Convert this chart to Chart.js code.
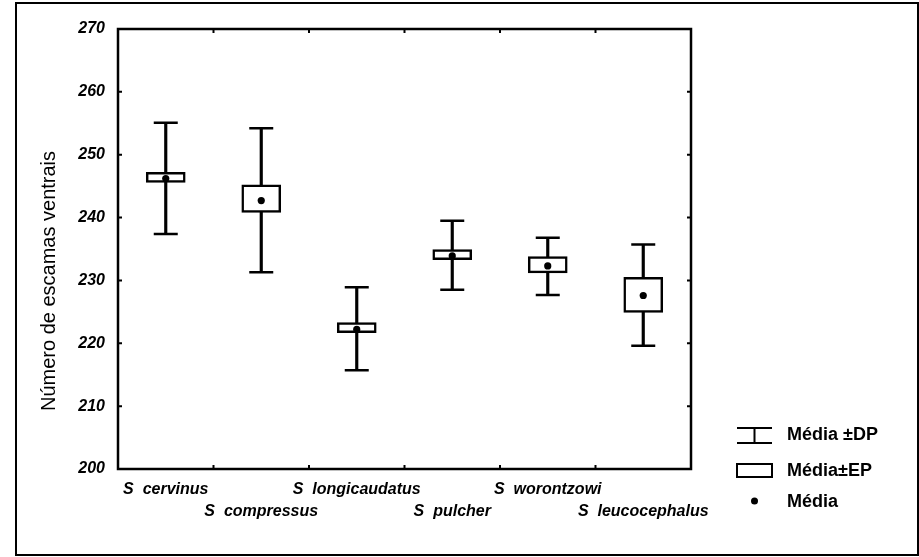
<!DOCTYPE html>
<html>
<head>
<meta charset="utf-8">
<script src="https://cdn.jsdelivr.net/npm/chart.js@4"></script>
<style>
html,body{margin:0;padding:0;background:#fff;}
#wrap{width:919px;height:557px;position:relative;}
</style>
</head>
<body>
<div id="wrap"><canvas id="c" width="919" height="557"></canvas></div>
<script>
// ---- data ----
const categories = ['S  cervinus', 'S  compressus', 'S  longicaudatus', 'S  pulcher', 'S  worontzowi', 'S  leucocephalus'];
const meanValues = [246.2, 242.7, 222.2, 233.9, 232.3, 227.6];
const seLow      = [245.6, 240.8, 221.7, 233.3, 231.2, 224.9];
const seHigh     = [247.2, 245.2, 223.3, 234.9, 233.8, 230.5];
const sdLow      = [237.4, 231.3, 215.7, 228.5, 227.7, 219.6];
const sdHigh     = [255.1, 254.2, 228.9, 239.5, 236.8, 235.7];
const yTicks     = [200, 210, 220, 230, 240, 250, 260, 270];
const yTitle     = 'Número de escamas ventrais';
const legendLabels = ['Média ±DP', 'Média±EP', 'Média'];

// staggered two-row category labels
const staggeredLabels = categories.map((c, i) => i % 2 === 0 ? [c, ''] : ['', c]);

const FONT = '"Liberation Sans", Arial, sans-serif';

const decor = {
  id: 'decor',
  beforeDraw(chart) {
    const ctx = chart.ctx;
    ctx.save();
    ctx.fillStyle = '#fff';
    ctx.fillRect(0, 0, chart.width, chart.height);
    ctx.restore();
  },
  afterDraw(chart) {
    const ctx = chart.ctx;
    const a = chart.chartArea;
    const xs = chart.scales.x, ys = chart.scales.y;
    ctx.save();
    ctx.strokeStyle = '#000';
    ctx.fillStyle = '#000';
    // plot frame
    ctx.lineWidth = 2.5;
    ctx.strokeRect(a.left, a.top, a.right - a.left, a.bottom - a.top);
    // inward ticks
    ctx.lineWidth = 2;
    ctx.beginPath();
    yTicks.forEach(v => {
      const y = ys.getPixelForValue(v);
      ctx.moveTo(a.left, y); ctx.lineTo(a.left + 4, y);
      ctx.moveTo(a.right, y); ctx.lineTo(a.right - 4, y);
    });
    for (let i = 0; i < categories.length - 1; i++) {
      const x = (xs.getPixelForValue(i) + xs.getPixelForValue(i + 1)) / 2;
      ctx.moveTo(x, a.bottom); ctx.lineTo(x, a.bottom - 4);
      ctx.moveTo(x, a.top); ctx.lineTo(x, a.top + 4);
    }
    ctx.stroke();
    // outer frame
    ctx.lineWidth = 2;
    ctx.strokeRect(16, 3, 902, 552);
    // y-axis title
    ctx.save();
    ctx.translate(49, 281);
    ctx.rotate(-Math.PI / 2);
    ctx.font = '20px ' + FONT;
    ctx.textAlign = 'center';
    ctx.textBaseline = 'middle';
    ctx.fillText(yTitle, 0, 0);
    ctx.restore();
    // legend
    const ix = 737, iw = 35, tx = 787;
    ctx.lineWidth = 2;
    ctx.beginPath();
    ctx.moveTo(ix, 428); ctx.lineTo(ix + iw, 428);
    ctx.moveTo(ix, 443); ctx.lineTo(ix + iw, 443);
    ctx.moveTo(ix + iw / 2, 428); ctx.lineTo(ix + iw / 2, 443);
    ctx.stroke();
    ctx.strokeRect(ix, 464, iw, 13);
    ctx.beginPath();
    ctx.arc(ix + iw / 2, 501, 3.5, 0, Math.PI * 2);
    ctx.fill();
    ctx.font = 'bold 18px ' + FONT;
    ctx.textAlign = 'left';
    ctx.textBaseline = 'middle';
    ctx.fillText(legendLabels[0], tx, 435);
    ctx.fillText(legendLabels[1], tx, 471);
    ctx.fillText(legendLabels[2], tx, 502);
    ctx.restore();
  }
};

new Chart(document.getElementById('c'), {
  type: 'bar',
  data: {
    labels: staggeredLabels,
    datasets: [
      {
        type: 'bar', label: 'DP',
        data: sdLow.map((v, i) => [v, sdHigh[i]]),
        backgroundColor: '#000', borderWidth: 0,
        barThickness: 2.5, grouped: false, order: 5
      },
      {
        type: 'bar', label: 'EP',
        data: seLow.map((v, i) => [v, seHigh[i]]),
        backgroundColor: '#fff', borderColor: '#000', borderWidth: 2.5,
        borderSkipped: false, barThickness: 39, grouped: false, order: 4
      },
      {
        type: 'line', label: 'DP+',
        data: sdHigh, showLine: false,
        pointStyle: 'line', pointRadius: 12, pointBorderWidth: 2.5,
        pointBorderColor: '#000', order: 3
      },
      {
        type: 'line', label: 'DP-',
        data: sdLow, showLine: false,
        pointStyle: 'line', pointRadius: 12, pointBorderWidth: 2.5,
        pointBorderColor: '#000', order: 2
      },
      {
        type: 'line', label: 'Média',
        data: meanValues, showLine: false,
        pointStyle: 'circle', pointRadius: 3.6, pointBorderWidth: 0,
        pointBackgroundColor: '#000', order: 1
      }
    ]
  },
  options: {
    responsive: false,
    animation: false,
    events: [],
    layout: { padding: { left: 0, right: 228, top: 29, bottom: 0 } },
    plugins: { legend: { display: false }, tooltip: { enabled: false }, title: { display: false } },
    scales: {
      x: {
        type: 'category',
        offset: true,
        grid: { display: false },
        border: { display: false },
        ticks: {
          color: '#000', maxRotation: 0, autoSkip: false, padding: 2,
          font: { family: FONT, size: 16, weight: 'bold', style: 'italic', lineHeight: 1.375 }
        },
        afterFit(s) { s.height = 88; }
      },
      y: {
        min: 200, max: 270,
        grid: { display: false },
        border: { display: false },
        afterBuildTicks(s) { s.ticks = yTicks.map(v => ({ value: v })); },
        ticks: {
          color: '#000', padding: 5,
          font: { family: FONT, size: 16, weight: 'bold', style: 'italic' }
        },
        afterFit(s) { s.width = 118; }
      }
    }
  },
  plugins: [decor]
});
</script>
</body>
</html>
